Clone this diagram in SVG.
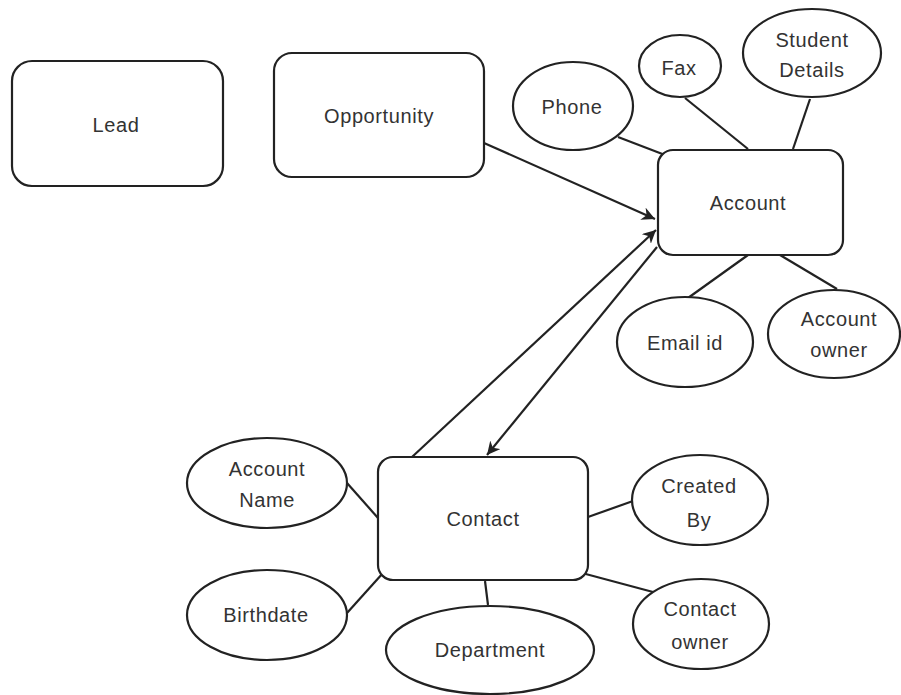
<svg xmlns="http://www.w3.org/2000/svg" width="901" height="695" viewBox="0 0 901 695">
<style>
.box{fill:#fff;stroke:#222;stroke-width:2.2}
.ell{fill:#fff;stroke:#222;stroke-width:2.2}
.ln{stroke:#222;stroke-width:2.2;fill:none}
text{font-family:"Liberation Sans",Arial,sans-serif;font-size:20px;letter-spacing:0.6px;fill:#333;text-anchor:middle;dominant-baseline:central}
</style>
<defs>
<marker id="ah" viewBox="0 0 10 10" refX="10" refY="5" markerWidth="6" markerHeight="6" orient="auto" markerUnits="strokeWidth">
<path d="M0,0 L10,5 L0,10 L3,5 z" fill="#222"/>
</marker>
</defs>
<rect width="901" height="695" fill="#fff"/>
<g id="connectors">
<line class="ln" x1="484" y1="143" x2="655" y2="219" marker-end="url(#ah)"/>
<line class="ln" x1="412" y1="457" x2="656" y2="230" marker-end="url(#ah)"/>
<line class="ln" x1="657" y1="247" x2="487" y2="455" marker-end="url(#ah)"/>
<line class="ln" x1="618" y1="137" x2="665" y2="155"/>
<line class="ln" x1="685" y1="98" x2="748" y2="149"/>
<line class="ln" x1="810" y1="99" x2="793" y2="149"/>
<line class="ln" x1="688" y1="298" x2="748" y2="255"/>
<line class="ln" x1="837" y1="289" x2="780" y2="255"/>
<line class="ln" x1="347" y1="483" x2="378" y2="518"/>
<line class="ln" x1="347" y1="613" x2="383" y2="573"/>
<line class="ln" x1="485" y1="581" x2="488" y2="605"/>
<line class="ln" x1="588" y1="517" x2="633" y2="501"/>
<line class="ln" x1="582" y1="573" x2="653" y2="592"/>
</g>
<g id="lead"><rect class="box" x="12" y="61" width="211" height="125" rx="20"/><text x="116" y="125">Lead</text></g>
<g id="opportunity"><rect class="box" x="274" y="53" width="210" height="124" rx="18"/><text x="379" y="116">Opportunity</text></g>
<g id="account"><rect class="box" x="658" y="150" width="185" height="105" rx="15"/><text x="748" y="203">Account</text></g>
<g id="phone"><ellipse class="ell" cx="573" cy="106" rx="60" ry="44"/><text x="572" y="107">Phone</text></g>
<g id="fax"><ellipse class="ell" cx="680" cy="66" rx="41" ry="31"/><text x="679" y="68">Fax</text></g>
<g id="student-details"><ellipse class="ell" cx="812" cy="53" rx="69" ry="44"/><text x="812" y="40">Student</text><text x="812" y="70">Details</text></g>
<g id="email-id"><ellipse class="ell" cx="685" cy="342" rx="68" ry="45"/><text x="685" y="343">Email id</text></g>
<g id="account-owner"><ellipse class="ell" cx="834" cy="334" rx="66" ry="44"/><text x="839" y="319">Account</text><text x="839" y="350">owner</text></g>
<g id="contact"><rect class="box" x="378" y="457" width="210" height="123" rx="15"/><text x="483" y="519">Contact</text></g>
<g id="account-name"><ellipse class="ell" cx="267" cy="483" rx="80" ry="45"/><text x="267" y="469">Account</text><text x="267" y="500">Name</text></g>
<g id="birthdate"><ellipse class="ell" cx="267" cy="615" rx="80" ry="45"/><text x="266" y="615">Birthdate</text></g>
<g id="department"><ellipse class="ell" cx="490" cy="650" rx="104" ry="44"/><text x="490" y="650">Department</text></g>
<g id="created-by"><ellipse class="ell" cx="700" cy="500" rx="68" ry="45"/><text x="699" y="486">Created</text><text x="699" y="520">By</text></g>
<g id="contact-owner"><ellipse class="ell" cx="701" cy="624" rx="68" ry="45"/><text x="700" y="609">Contact</text><text x="700" y="642">owner</text></g>
</svg>
